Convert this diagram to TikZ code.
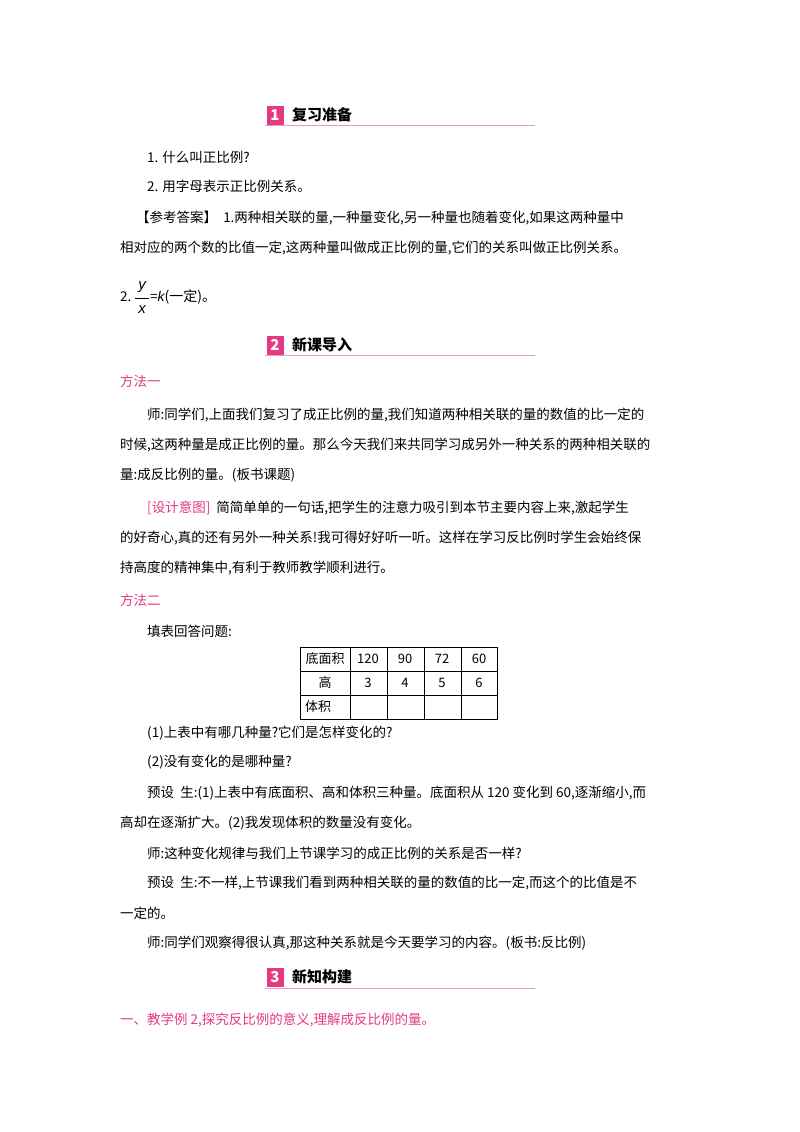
\documentclass[tikz,border=0pt]{standalone}
\usepackage{fontspec}
\setmainfont{Noto Sans CJK SC}
\newfontfamily\numfont{Liberation Sans}
\definecolor{pk}{RGB}{228,58,130}
\definecolor{pkl}{RGB}{240,150,190}
\begin{document}
\begin{tikzpicture}[x=1pt,y=-1pt,
  tx/.style={anchor=west,inner sep=0pt,font=\fontsize{13.5}{14}\selectfont},
  hd/.style={anchor=west,inner sep=0pt,font=\fontsize{15}{16}\selectfont\bfseries},
  nb/.style={fill=pk,text=white,inner sep=0pt,minimum width=17pt,minimum height=19pt,font=\fontsize{15}{16}\selectfont\bfseries\itshape},
  var/.style={inner sep=0pt,font=\fontsize{15}{16}\selectfont\numfont\itshape},
  cell/.style={inner sep=0pt,font=\fontsize{13}{14}\selectfont}]
\useasboundingbox (0,0) rectangle (800,1132);
\fill[white] (0,0) rectangle (800,1132);
% header 1
\node[nb] (n1) at (275,115) {1};
\node[hd] (h1) at (292,115) {复习准备};
\draw[pkl,line width=0.8pt] (265,125) -- (535,125);
\node[tx] (a1) at (147,157) {1. 什么叫正比例?};
\node[tx] (a2) at (147,186) {2. 用字母表示正比例关系。};
\node[tx] (a3) at (136,218) {【参考答案】\ \ 1.两种相关联的量,一种量变化,另一种量也随着变化,如果这两种量中};
\node[tx] (a4) at (120,248) {相对应的两个数的比值一定,这两种量叫做成正比例的量,它们的关系叫做正比例关系。};
\node[tx] (a5) at (120,297) {2.};
\node[var] (fy) at (142,287) {y};
\node[var] (fx) at (142,310) {x};
\draw (135,298) -- (149,298);
\node[tx] (a6) at (150,297) {=\fontsize{14}{14}\selectfont{\numfont\itshape k}(一定)。};
% header 2
\node[nb] (n2) at (275,345) {2};
\node[hd] (h2) at (292,345) {新课导入};
\draw[pkl,line width=0.8pt] (265,355) -- (535,355);
\node[tx,text=pk] (m1) at (120,381) {方法一};
\node[tx] (b1) at (147,415) {师:同学们,上面我们复习了成正比例的量,我们知道两种相关联的量的数值的比一定的};
\node[tx] (b2) at (120,445) {时候,这两种量是成正比例的量。那么今天我们来共同学习成另外一种关系的两种相关联的};
\node[tx] (b3) at (120,475) {量:成反比例的量。(板书课题)};
\node[tx] (b4) at (147,508) {\textcolor{pk}{[设计意图]}\ \ 简简单单的一句话,把学生的注意力吸引到本节主要内容上来,激起学生};
\node[tx] (b5) at (120,538) {的好奇心,真的还有另外一种关系!我可得好好听一听。这样在学习反比例时学生会始终保};
\node[tx] (b6) at (120,568) {持高度的精神集中,有利于教师教学顺利进行。};
\node[tx,text=pk] (m2) at (120,600) {方法二};
\node[tx] (c0) at (147,631) {填表回答问题:};
% table
\draw[line width=0.7pt] (300,647) rectangle (497,719);
\foreach \yy in {671,695} \draw[line width=0.7pt] (300,\yy) -- (497,\yy);
\foreach \xx in {350,387,424,461} \draw[line width=0.7pt] (\xx,647) -- (\xx,719);
\node[cell] (t1) at (325,659) {底面积};
\node[cell] (t2) at (368,659) {120};
\node[cell] (t3) at (405,659) {90};
\node[cell] (t4) at (442,659) {72};
\node[cell] (t5) at (479,659) {60};
\node[cell] (t6) at (325,683) {高};
\node[cell] (t7) at (368,683) {3};
\node[cell] (t8) at (405,683) {4};
\node[cell] (t9) at (442,683) {5};
\node[cell] (t10) at (479,683) {6};
\node[cell] (t11) at (318,707) {体积};
\node[tx] (c1) at (147,733) {(1)上表中有哪几种量?它们是怎样变化的?};
\node[tx] (c2) at (147,762) {(2)没有变化的是哪种量?};
\node[tx] (c3) at (147,793) {预设\ \ 生:(1)上表中有底面积、高和体积三种量。底面积从 120 变化到 60,逐渐缩小,而};
\node[tx] (c4) at (120,823) {高却在逐渐扩大。(2)我发现体积的数量没有变化。};
\node[tx] (c5) at (147,853) {师:这种变化规律与我们上节课学习的成正比例的关系是否一样?};
\node[tx] (c6) at (147,883) {预设\ \ 生:不一样,上节课我们看到两种相关联的量的数值的比一定,而这个的比值是不};
\node[tx] (c7) at (120,913) {一定的。};
\node[tx] (c8) at (147,943) {师:同学们观察得很认真,那这种关系就是今天要学习的内容。(板书:反比例)};
% header 3
\node[nb] (n3) at (275,977) {3};
\node[hd] (h3) at (292,977) {新知构建};
\draw[pkl,line width=0.8pt] (265,988) -- (535,988);
\node[tx,text=pk] (d1) at (120,1020) {一、教学例 2,探究反比例的意义,理解成反比例的量。};
\end{tikzpicture}
\end{document}
